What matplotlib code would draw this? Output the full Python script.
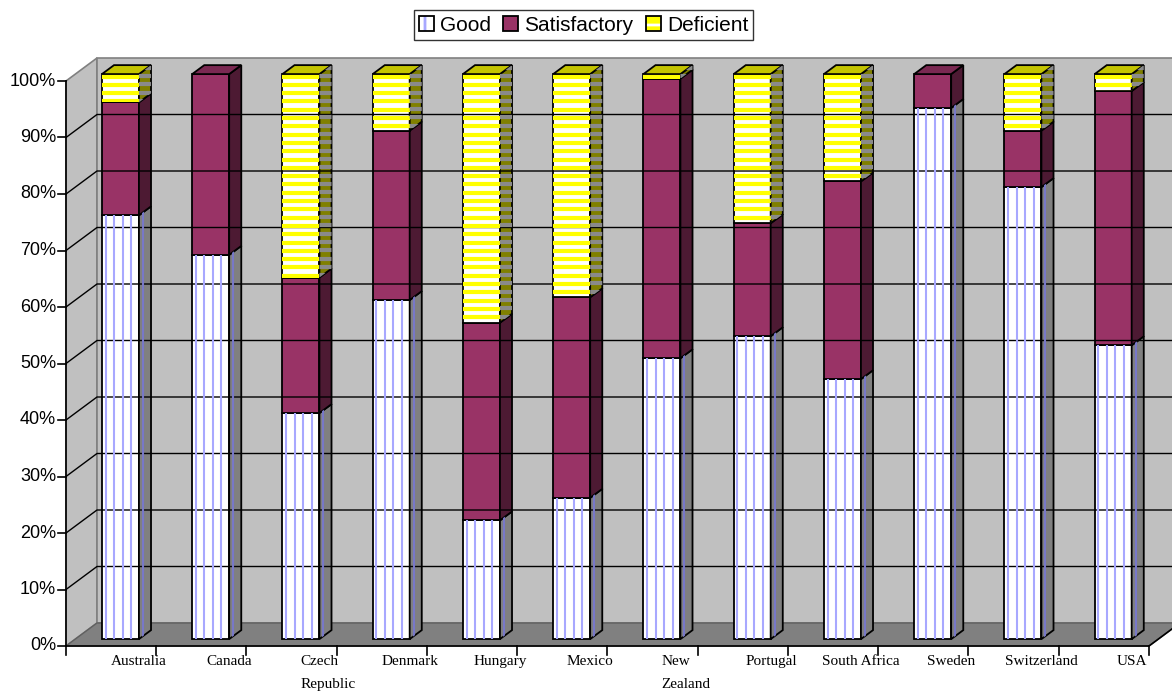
import numpy as np
import matplotlib
matplotlib.use("Agg")
import matplotlib.pyplot as plt
from matplotlib.patches import Polygon, Patch
from matplotlib.collections import LineCollection

countries = ["Australia", "Canada", "Czech\nRepublic", "Denmark", "Hungary", "Mexico",
             "New\nZealand", "Portugal", "South Africa", "Sweden", "Switzerland", "USA"]
good = [75, 68, 40, 60, 21, 25, 49.7, 53.6, 46, 94, 80, 52]
satisfactory = [20, 32, 24, 30, 35, 35.5, 49.5, 20, 35, 6, 10, 45]
deficient = [5, 0, 36, 10, 44, 39.5, 0.8, 26.4, 19, 0, 10, 3]
yticks = list(range(0, 101, 10))

# pseudo-3D projection (Excel style): depth d shifts right and up
PX_X, PX_Y = 90.25, 5.65          # pixels per category / per percent
DX, DY = 31 / PX_X, 23 / PX_Y
D0, D1 = 0.3, 0.69                # bar depth range
W0, W1 = 0.295, 0.705             # bar span inside a category


def P(x, v, d):
    return (x + d * DX, v + d * DY)


fig = plt.figure(figsize=(11.72, 6.92), dpi=100)
ax = fig.add_axes([0, 0, 1, 1])
ax.set_xlim(-66 / PX_X, (1172 - 66) / PX_X)
ax.set_ylim((646 - 692) / PX_Y, 646 / PX_Y)
ax.axis('off')

n = len(countries)
# walls and floor
ax.add_patch(Polygon([P(0, 0, 0), P(0, 0, 1), P(0, 100, 1), P(0, 100, 0)],
                     facecolor='#C0C0C0', edgecolor='#808080', lw=1.2))
ax.add_patch(Polygon([P(0, 0, 1), P(n, 0, 1), P(n, 100, 1), P(0, 100, 1)],
                     facecolor='#C0C0C0', edgecolor='#808080', lw=1.2))
for v in yticks[1:-1]:
    ax.plot(*zip(P(0, v, 0), P(0, v, 1), P(n, v, 1)), color='black', lw=1)
ax.add_patch(Polygon([P(0, 0, 0), P(n, 0, 0), P(n, 0, 1), P(0, 0, 1)],
                     facecolor='#808080', edgecolor='#606060', lw=1))

# axes lines and ticks
ax.plot([0, 0], [-1.6, 100], color='black', lw=1.2)
ax.plot(*zip(P(n, 0, 1), P(n, 0, 0), P(0, 0, 0)), color='black', lw=1.2)
for v in yticks:
    ax.plot([-0.09, 0], [v, v], color='black', lw=1.2)
    ax.text(-0.11, v, f"{v}%", ha='right', va='center', fontsize=13,
            family='Liberation Sans')
for i in range(1, n + 1):
    ax.plot([i, i], [0, -1.6], color='black', lw=1.2)


def face(pts, fc, stripe=None, scolor=None, slw=1.0):
    poly = Polygon(pts, facecolor=fc, edgecolor='none', lw=0)
    ax.add_patch(poly)
    if stripe:
        xs, ys = zip(*pts)
        if stripe == 'v':
            step = 8.5 / PX_X
            pos = np.arange(min(xs) + step * 0.45, max(xs), step)
            segs = [[(p, min(ys) - 10), (p, max(ys) + 10)] for p in pos]
        else:
            step = 8.3 / PX_Y
            pos = np.arange(max(ys) - step * 0.3, min(ys) - 10, -step)
            segs = [[(min(xs) - 1, p), (max(xs) + 1, p)] for p in pos]
        lc = LineCollection(segs, colors=scolor, linewidths=slw)
        lc.set_clip_path(poly)
        ax.add_collection(lc)
    ax.add_patch(Polygon(pts, fill=False, edgecolor='black', lw=1.3))


styles = [
    dict(front='white', fs=('v', '#A8A8FF', 1.5), side='#808080', ss=('v', '#7878C8', 1.5),
         top='#C0C0FF'),
    dict(front='#993366', fs=(None, None, 1), side='#4D1A33', ss=(None, None, 1),
         top='#7A2952'),
    dict(front='white', fs=('h', '#FFFF00', 3.0), side='#808000', ss=('h', '#8A8A8A', 3.0),
         top='#C4C400'),
]

for i in range(n):
    x0, x1 = i + W0, i + W1
    lo = 0
    top_style = None
    for vals, st in zip([good, satisfactory, deficient], styles):
        v = vals[i]
        if v <= 0:
            continue
        hi = lo + v
        face([P(x0, lo, D0), P(x1, lo, D0), P(x1, hi, D0), P(x0, hi, D0)],
             st['front'], *st['fs'])
        face([P(x1, lo, D0), P(x1, lo, D1), P(x1, hi, D1), P(x1, hi, D0)],
             st['side'], *st['ss'])
        lo = hi
        top_style = st
    ax.add_patch(Polygon([P(x0, lo, D0), P(x1, lo, D0), P(x1, lo, D1), P(x0, lo, D1)],
                         facecolor=top_style['top'], edgecolor='black', lw=1.3))

    label = countries[i]
    if "\n" in label:
        ax.text(i + 0.5 + 0.31 - 0.21, -1.6, label, ha='left', va='top', fontsize=11,
                family='Liberation Serif', linespacing=1.95)
    else:
        ax.text(i + 0.5 + 0.31, -1.6, label, ha='center', va='top', fontsize=11,
                family='Liberation Serif')

plt.rcParams['hatch.linewidth'] = 2.0
handles = [
    (Patch(facecolor='white', edgecolor='#A8A8FF', hatch='|', lw=0),
     Patch(fill=False, edgecolor='black', lw=1.3)),
    Patch(facecolor='#993366', edgecolor='black', lw=1.3),
    (Patch(facecolor='#FFFF00', edgecolor='white', hatch='-', lw=0),
     Patch(fill=False, edgecolor='black', lw=1.3)),
]
leg = fig.legend(handles, ["Good", "Satisfactory", "Deficient"], loc='upper center',
                 bbox_to_anchor=(0.498, 0.985), ncol=3, frameon=True, fancybox=False,
                 prop={'family': 'Liberation Sans', 'size': 15},
                 handlelength=0.7, handleheight=0.7, handletextpad=0.3,
                 columnspacing=0.6, borderpad=0.25, borderaxespad=0)
leg.get_frame().set_edgecolor('black')
leg.get_frame().set_linewidth(1)

fig.savefig('out.png', dpi=100)
